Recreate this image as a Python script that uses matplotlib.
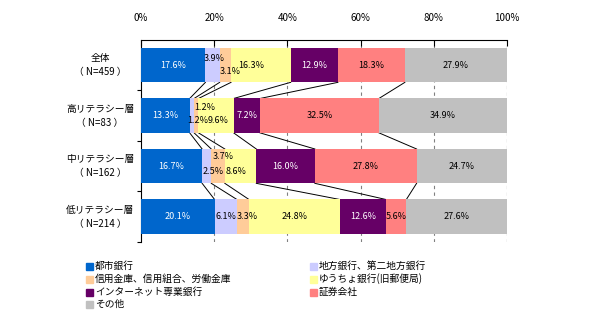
# 金融機関の利用状況（リテラシー層別）
import matplotlib.pyplot as plt
from matplotlib.patches import Rectangle
import numpy as np

plt.rcParams['font.family'] = ['Noto Sans CJK JP', 'DejaVu Sans']

# データ
categories = ['全体\n（ N=459 ）', '高リテラシー層\n（ N=83 ）',
              '中リテラシー層\n（ N=162 ）', '低リテラシー層\n（ N=214 ）']
series = ['都市銀行', '地方銀行、第二地方銀行', '信用金庫、信用組合、労働金庫',
          'ゆうちょ銀行(旧郵便局)', 'インターネット専業銀行', '証券会社', 'その他']
toshi = [17.6, 13.3, 16.7, 20.1]
chiho = [3.9, 1.2, 2.5, 6.1]
shinkin = [3.1, 1.2, 3.7, 3.3]
yucho = [16.3, 9.6, 8.6, 24.8]
net = [12.9, 7.2, 16.0, 12.6]
shoken = [18.3, 32.5, 27.8, 5.6]
sonota = [27.9, 34.9, 24.7, 27.6]
x_ticks = [0, 20, 40, 60, 80, 100]

values = np.array([toshi, chiho, shinkin, yucho, net, shoken, sonota])
colors = ['#0066CC', '#CCCCFF', '#FFCC99', '#FFFF99', '#660066', '#FF8080', '#C0C0C0']
text_colors = ['white', 'black', 'black', 'black', 'white', 'black', 'black']

# 小さい区間のラベル位置の調整 (行, 系列): (dx[%], dy[行])
label_offsets = {
    (0, 1): (0.5, -0.14), (0, 2): (1.4, 0.13), (0, 3): (-2.6, 0),
    (1, 1): (3.4, -0.16), (1, 2): (0.3, 0.1), (1, 3): (0.6, 0.1),
    (2, 1): (1.8, 0.1), (2, 2): (1.4, -0.2), (2, 3): (-1.1, 0.1),
    (3, 2): (1.2, 0),
}

fig = plt.figure(figsize=(6, 3.3), dpi=100)
ax = fig.add_axes([0.235, 0.267, 0.61, 0.612])

y = np.arange(len(categories)) + 0.5
bar_h = 0.68
left = np.zeros(len(categories))
for i, s in enumerate(series):
    ax.barh(y, values[i], left=left, height=bar_h, color=colors[i],
            edgecolor='none', zorder=3)
    for r in range(len(categories)):
        dx, dy = label_offsets.get((r, i), (0, 0))
        ax.text(left[r] + values[i][r] / 2 + dx, y[r] + dy, f'{values[i][r]:.1f}%',
                ha='center', va='center', fontsize=6.5, color=text_colors[i], zorder=4)
    left = left + values[i]

# 区分線
cum = np.cumsum(values, axis=0)
for k in range(len(series) - 1):
    for r in range(len(categories) - 1):
        ax.plot([cum[k][r], cum[k][r + 1]], [y[r] + bar_h / 2, y[r + 1] - bar_h / 2],
                color='black', lw=0.7, zorder=2)

# 軸
ax.set_xlim(0, 100)
ax.set_ylim(4, 0)
ax.xaxis.tick_top()
ax.set_xticks(x_ticks)
ax.set_xticklabels([f'{t}%' for t in x_ticks], fontsize=7)
ax.tick_params(axis='x', direction='in', length=4.5, width=0.8, pad=12)
ax.set_yticks([1, 2, 3, 4])
ax.set_yticklabels([])
ax.tick_params(axis='y', direction='out', length=3, width=0.8)
for xv in x_ticks[1:]:
    ax.axvline(xv, color='#808080' if xv < 100 else '#404040', lw=0.8,
               ls=(0, (3, 3)), zorder=1)
for side in ['right', 'bottom']:
    ax.spines[side].set_visible(False)
ax.spines['top'].set_linewidth(0.8)
ax.spines['left'].set_linewidth(0.8)

for r, c in enumerate(categories):
    ax.text(-0.112, y[r], c, transform=ax.get_yaxis_transform(), ha='center',
            va='center', fontsize=7, linespacing=1.5)

# 凡例
legend_pos = [(86, 266), (310, 266), (86, 279), (310, 279), (86, 292), (310, 292), (86, 304)]
for i, s in enumerate(series):
    px, py = legend_pos[i]
    fig.add_artist(Rectangle((px / 600, 1 - (py + 3.5) / 330), 7 / 600, 7 / 330,
                             transform=fig.transFigure, color=colors[i]))
    fig.text((px + 9) / 600, 1 - py / 330, s, fontsize=7, va='center', ha='left')

plt.savefig('out.png', dpi=100)
plt.close(fig)
